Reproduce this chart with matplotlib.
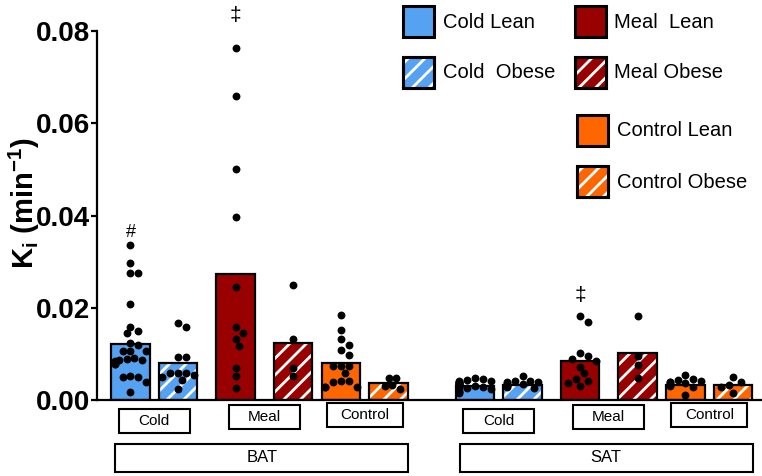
import numpy as np
import matplotlib
matplotlib.use("Agg")
import matplotlib.pyplot as plt
from matplotlib.patches import Rectangle
import matplotlib.transforms as mtransforms

plt.rcParams['font.family'] = ['Liberation Sans', 'DejaVu Sans']
plt.rcParams['mathtext.fontset'] = 'custom'
plt.rcParams['mathtext.rm'] = 'Liberation Sans:bold'
plt.rcParams['mathtext.bf'] = 'Liberation Sans:bold'
plt.rcParams['mathtext.it'] = 'Liberation Sans:bold'
plt.rcParams['hatch.linewidth'] = 2.0

# data
tissues = ["BAT", "SAT"]
conditions = ["Cold", "Meal", "Control"]
groups = ["Cold Lean", "Cold  Obese", "Meal  Lean", "Meal Obese", "Control Lean", "Control Obese"]
colors = ["#55a2f2", "#55a2f2", "#990000", "#990000", "#ff6600", "#ff6600"]
hatched = [False, True, False, True, False, True]

bat_means = [0.0121, 0.0081, 0.0273, 0.0124, 0.0081, 0.0037]
sat_means = [0.0030, 0.0032, 0.0085, 0.0101, 0.0033, 0.0032]

bat_cold_lean = [0.0336, 0.0298, 0.0275, 0.0275, 0.0208, 0.0159, 0.0150, 0.0145, 0.0124,
                 0.0119, 0.0106, 0.0106, 0.0106, 0.0090, 0.0088, 0.0086, 0.0086, 0.0084,
                 0.0082, 0.0080, 0.0079, 0.0077, 0.0051, 0.0050, 0.0050, 0.0040, 0.0018]
bat_cold_obese = [0.0168, 0.0158, 0.0094, 0.0094, 0.0058, 0.0058, 0.0058, 0.0055, 0.0050, 0.0043, 0.0023]
bat_meal_lean = [0.0764, 0.0658, 0.0501, 0.0397, 0.0246, 0.0159, 0.0146, 0.0132, 0.0116, 0.0070, 0.0051, 0.0027]
bat_meal_obese = [0.0249, 0.0132, 0.0069, 0.0051]
bat_ctrl_lean = [0.0184, 0.0152, 0.0132, 0.0119, 0.0108, 0.0098, 0.0074, 0.0074, 0.0074,
                 0.0059, 0.0041, 0.0041, 0.0039, 0.0029, 0.0029, 0.0029]
bat_ctrl_obese = [0.0047, 0.0047, 0.0033, 0.0030, 0.0023]

sat_cold_lean = [0.0048, 0.0045, 0.0043, 0.0042, 0.0042, 0.0040, 0.0038, 0.0037, 0.0036,
                 0.0035, 0.0034, 0.0033, 0.0032, 0.0031, 0.0030, 0.0030, 0.0029, 0.0028,
                 0.0027, 0.0025, 0.0023, 0.0020, 0.0017, 0.0015]
sat_cold_obese = [0.0052, 0.0042, 0.0041, 0.0040, 0.0038, 0.0036, 0.0035, 0.0033, 0.0032, 0.0030, 0.0028, 0.0026]
sat_meal_lean = [0.0183, 0.0170, 0.0101, 0.0095, 0.0089, 0.0085, 0.0072, 0.0058, 0.0045, 0.0042, 0.0036, 0.0031]
sat_meal_obese = [0.0183, 0.0095, 0.0076, 0.0047]
sat_ctrl_lean = [0.0054, 0.0045, 0.0043, 0.0042, 0.0040, 0.0038, 0.0037, 0.0035, 0.0033, 0.0031, 0.0028, 0.0011]
sat_ctrl_obese = [0.0049, 0.0038, 0.0033, 0.0028, 0.0016]

bat_points = [bat_cold_lean, bat_cold_obese, bat_meal_lean, bat_meal_obese, bat_ctrl_lean, bat_ctrl_obese]
sat_points = [sat_cold_lean, sat_cold_obese, sat_meal_lean, sat_meal_obese, sat_ctrl_lean, sat_ctrl_obese]

# layout
W, H = 762, 476
offsets = np.array([0, 1.0, 2.21, 3.42, 4.43, 5.43])
starts = [0, 7.25]
bar_w = 0.82
xmin, xmax = -0.705, 13.29
px_per_x = 47.5
px_per_y = 369 / 0.08
dot_d = 7.8

fig = plt.figure(figsize=(W / 100, H / 100), dpi=100)
ax = fig.add_axes([97 / W, 1 - 400 / H, 1 - 97 / W, 369 / H])


def swarm(vals):
    # simple beeswarm offsets in data units
    order = np.argsort(vals)[::-1]
    placed = []
    xs = np.zeros(len(vals))
    for i in order:
        y = vals[i] * px_per_y
        for k in [0, 1, -1, 2, -2, 3, -3, 4, -4]:
            x = k * dot_d * 0.5
            if all((x - px) ** 2 + (y - py) ** 2 >= (dot_d * 0.95) ** 2 for px, py in placed):
                break
        placed.append((x, y))
        xs[i] = x / px_per_x
    return xs


for start, means, pts in zip(starts, [bat_means, sat_means], [bat_points, sat_points]):
    pos = start + offsets
    for j in range(6):
        if hatched[j]:
            ax.bar(pos[j], means[j], bar_w, color=colors[j], edgecolor="white", hatch="//", linewidth=0)
            ax.bar(pos[j], means[j], bar_w, fill=False, edgecolor="black", linewidth=1.6)
        else:
            ax.bar(pos[j], means[j], bar_w, color=colors[j], edgecolor="black", linewidth=1.6)
        v = np.array(pts[j])
        ax.scatter(pos[j] + swarm(v), v, s=32, color="black", zorder=5, clip_on=False, linewidths=0)

# significance marks
ax.text(starts[0] + offsets[0], max(bat_cold_lean) + 0.0028, "#", ha="center", va="center", fontsize=13)
ax.text(starts[0] + offsets[2], max(bat_meal_lean) + 0.0069, "\u2021", ha="center", va="center", fontsize=15, clip_on=False)
ax.text(starts[1] + offsets[2], max(sat_meal_lean) + 0.0043, "\u2021", ha="center", va="center", fontsize=15)

ax.set_xlim(xmin, xmax)
ax.set_ylim(0, 0.08)
ax.set_yticks([0, 0.02, 0.04, 0.06, 0.08])
ax.set_yticklabels(["0.00", "0.02", "0.04", "0.06", "0.08"], fontsize=20, fontweight="bold")
ax.set_xticks([])
ax.spines["top"].set_visible(False)
ax.spines["right"].set_visible(False)
ax.spines["left"].set_linewidth(1.6)
ax.spines["bottom"].set_linewidth(1.6)
ax.tick_params(axis="y", width=1.6, length=4, pad=1)

fig.text(24 / W, 1 - 203 / H, r"$\mathbf{K_i}$ (min$^{\mathbf{-1}}$)", rotation=90,
         ha="center", va="center", fontsize=21, fontweight="bold")

# condition and tissue boxes below the axis
trans = mtransforms.blended_transform_factory(ax.transData, ax.transAxes)
box_w = [1.5, 1.5, 1.6]
box_top = [409, 405, 403]
for start, tissue in zip(starts, tissues):
    for c in range(3):
        cx = start + (offsets[2 * c] + offsets[2 * c + 1]) / 2
        y0 = (400 - box_top[c] - 24) / 369
        ax.add_patch(Rectangle((cx - box_w[c] / 2, y0), box_w[c], 24 / 369, transform=trans,
                               fill=False, edgecolor="black", linewidth=1.5, clip_on=False))
        ax.text(cx, y0 + 12 / 369, conditions[c], transform=trans, ha="center", va="center", fontsize=11)
    x0 = start - 0.326
    x1 = start + 5.85
    ax.add_patch(Rectangle((x0, (400 - 472) / 369), x1 - x0, 28 / 369, transform=trans,
                           fill=False, edgecolor="black", linewidth=1.5, clip_on=False))
    ax.text((x0 + x1) / 2, (400 - 458) / 369, tissue, transform=trans, ha="center", va="center", fontsize=12)

# legend drawn by hand
leg_box = [(403, 6), (403, 57), (575, 6), (575, 57), (577, 115), (577, 166)]
leg_text_x = [443, 443, 614, 614, 617, 617]
for j in range(6):
    lx, ly = leg_box[j]
    rect = Rectangle((lx / W, 1 - (ly + 31) / H), 31 / W, 31 / H, transform=fig.transFigure,
                     facecolor=colors[j], edgecolor="black", linewidth=2.2)
    fig.patches.append(rect)
    if hatched[j]:
        fig.patches.append(Rectangle((lx / W, 1 - (ly + 31) / H), 31 / W, 31 / H, transform=fig.transFigure,
                                     facecolor="none", edgecolor="white", hatch="//", linewidth=0))
        fig.patches.append(Rectangle((lx / W, 1 - (ly + 31) / H), 31 / W, 31 / H, transform=fig.transFigure,
                                     fill=False, edgecolor="black", linewidth=2.2))
    fig.text(leg_text_x[j] / W, 1 - (ly + 16) / H, groups[j], ha="left", va="center", fontsize=14.5)

fig.savefig("out.png", dpi=100)
